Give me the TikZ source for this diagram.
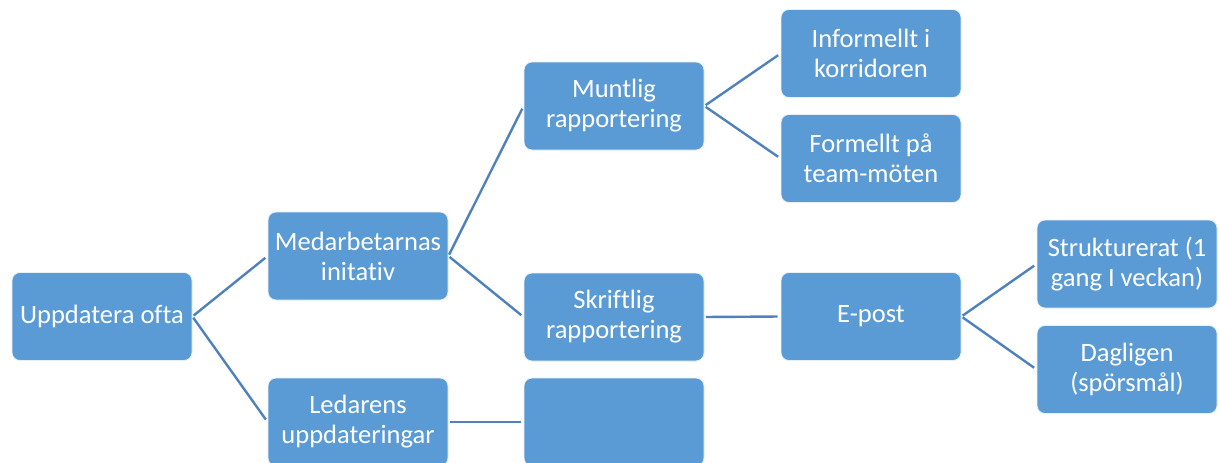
\documentclass[tikz,border=0pt]{standalone}
\usepackage{fontspec}
\setmainfont{Carlito}[Ligatures={NoCommon}]
\definecolor{boxfill}{HTML}{5B9BD5}
\definecolor{linkblue}{HTML}{4F81BD}
\begin{document}
\begin{tikzpicture}[x=1pt,y=-1pt,
  box/.style={rectangle, rounded corners=8pt, fill=boxfill, draw=white!85!boxfill,
    line width=0.8pt, minimum width=180pt, minimum height=88pt, inner sep=2pt,
    text=white, align=center, font=\fontsize{26.5}{30}\selectfont},
  link/.style={draw=linkblue, line width=2.4pt, shorten <=1.5pt, shorten >=3pt}]
\useasboundingbox (0,0) rectangle (1219,463);
% level 1
\node[box] (upd)  at (102,316.5) {Uppdatera ofta};
% level 2
\node[box] (med)  at (358,256)   {Medarbetarnas\\initativ};
\node[box] (led)  at (358,422)   {Ledarens\\uppdateringar};
% level 3
\node[box] (munt) at (614,106)   {Muntlig\\rapportering};
\node[box] (skr)  at (614,317)   {Skriftlig\\rapportering};
\node[box] (tom)  at (614,422)   {};
% level 4
\node[box] (inf)  at (871,53.5)  {Informellt i\\korridoren};
\node[box] (form) at (871,158.5) {Formellt på\\team-möten};
\node[box] (epost) at (871,316.5) {E-post};
% level 5
\node[box] (str)  at (1127,264)  {Strukturerat (1\\gang I veckan)};
\node[box] (dag)  at (1127,369.5) {Dagligen\\(spörsmål)};
% connectors
\draw[link] (upd.east) -- (med.west);
\draw[link] (upd.east) -- (led.west);
\draw[link] (med.east) -- (munt.west);
\draw[link] (med.east) -- (skr.west);
\draw[link] (led.east) -- (tom.west);
\draw[link] (munt.east) -- (inf.west);
\draw[link] (munt.east) -- (form.west);
\draw[link] (skr.east) -- (epost.west);
\draw[link] (epost.east) -- (str.west);
\draw[link] (epost.east) -- (dag.west);
\end{tikzpicture}
\end{document}
